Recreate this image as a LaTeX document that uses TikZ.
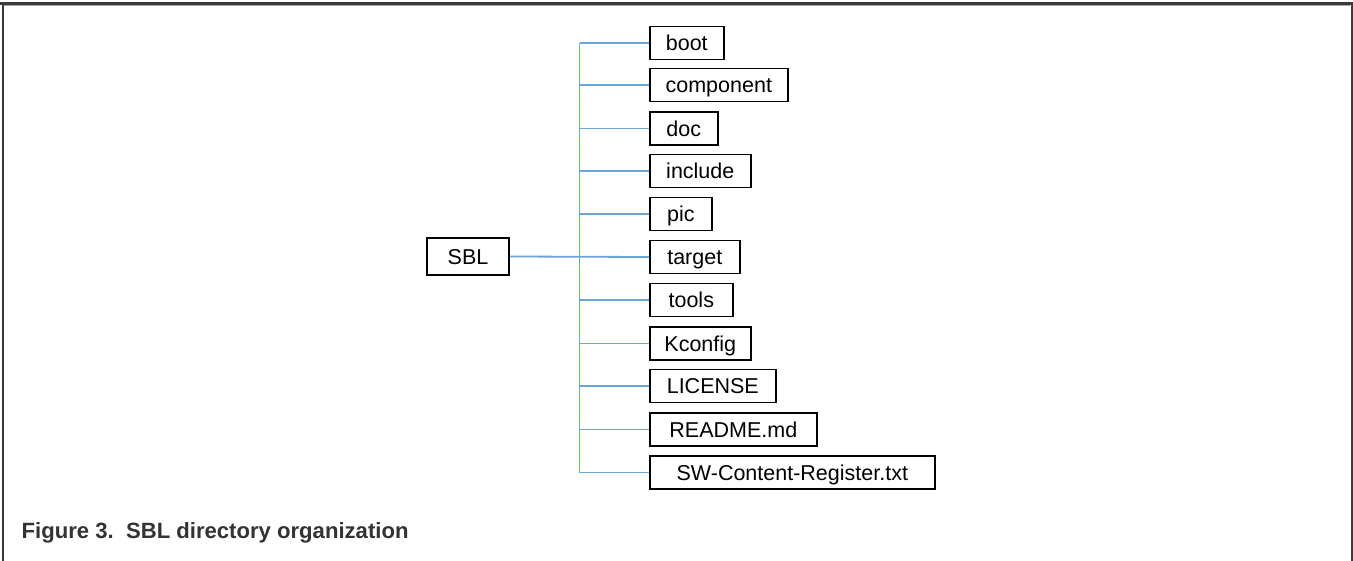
\documentclass[tikz,border=0pt]{standalone}
\usepackage{fontspec}
\setmainfont{Liberation Sans}
\definecolor{treeblue}{RGB}{110,165,215}
\definecolor{frame}{RGB}{58,58,58}
\definecolor{captext}{RGB}{51,51,51}
\begin{document}
\begin{tikzpicture}[x=1pt,y=-1pt,
  fbox/.style={draw=black, line width=1.6pt, fill=white, inner sep=0pt,
    minimum height=33pt, text height=15.5pt, text depth=0pt,
    font=\fontsize{21.5}{24}\selectfont, anchor=west},
  link/.style={draw=treeblue, line width=1.8pt}]
\useasboundingbox (0,0) rectangle (1353,561);
\fill[white] (0,0) rectangle (1353,561);
% frame
\draw[frame, line width=3pt] (0,3.5) -- (1353,3.5);
\draw[gray!70, line width=1pt] (4,5.5) -- (1350,5.5);
\draw[frame, line width=2pt] (2.5,3) -- (2.5,561);
\draw[frame, line width=2pt] (1351.5,3) -- (1351.5,561);
% connector anchors
\coordinate (top) at (579.5,43);
\coordinate (bot) at (579.5,472.5);
% connectors first (under boxes), using named positions
\coordinate (sblE) at (509,256.5);
\draw[link] (top) -- (bot);
% nodes
\node[fbox, minimum width=82pt, minimum height=37pt, anchor=center] (sbl) at (468,256.5) {SBL};
\node[fbox, minimum width=74pt]  (boot) at (649,43) {boot};
\node[fbox, minimum width=138pt] (component) at (649,85) {component};
\node[fbox, minimum width=68pt]  (doc) at (649,128.5) {doc};
\node[fbox, minimum width=101pt] (include) at (649,171) {include};
\node[fbox, minimum width=62pt]  (pic) at (649,214) {pic};
\node[fbox, minimum width=90pt]  (target) at (649,257) {target};
\node[fbox, minimum width=83pt]  (tools) at (649,300) {tools};
\node[fbox, minimum width=101pt] (kconfig) at (649,343.5) {Kconfig};
\node[fbox, minimum width=126pt] (license) at (649,386) {LICENSE};
\node[fbox, minimum width=167pt] (readme) at (649,429.5) {README.md};
\node[fbox, minimum width=285pt] (sw) at (649,472.5) {SW-Content-Register.txt};
\draw[link] (sbl.east) -- (target.west);
\foreach \n in {boot,component,doc,include,pic,tools,kconfig,license,readme,sw}
  \draw[link] (top |- \n.west) -- (\n.west);
% caption
\node[anchor=base west, inner sep=0pt, text=captext,
  font=\fontsize{22.1}{24}\selectfont\bfseries] (cap) at (21.5,538) {Figure 3.\ \ SBL directory organization};
\end{tikzpicture}
\end{document}
